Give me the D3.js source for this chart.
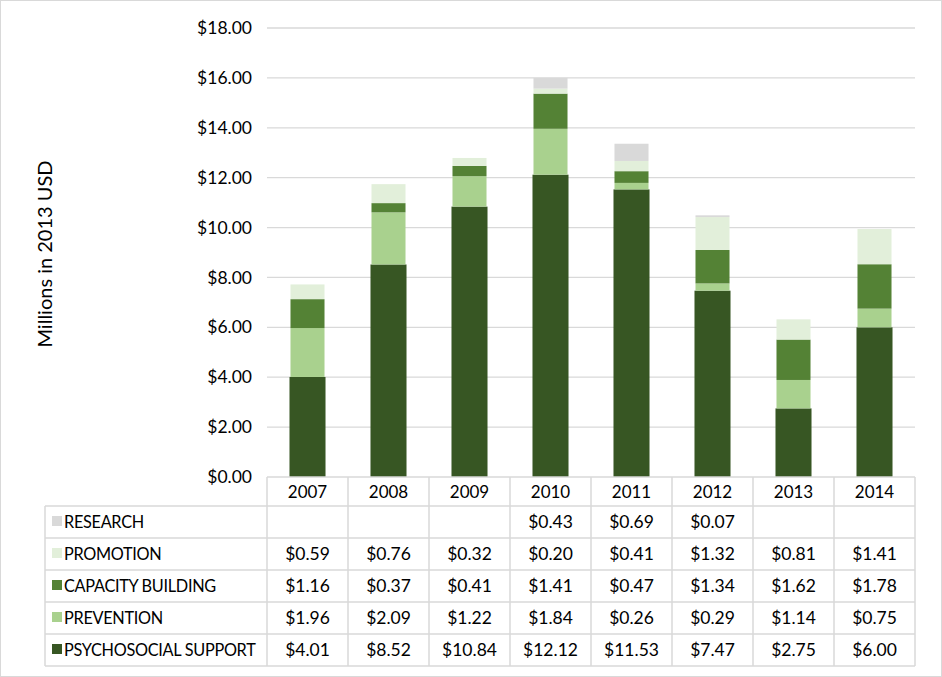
<!DOCTYPE html>
<html>
<head>
<meta charset="utf-8">
<script src="https://cdn.jsdelivr.net/npm/d3@7"></script>
<style>
  body { margin: 0; background: #fff; }
  svg text { font-family: Lato, "Open Sans", sans-serif; fill: #000; }
</style>
</head>
<body>
<div id="chart"></div>
<script>
const years = ["2007", "2008", "2009", "2010", "2011", "2012", "2013", "2014"];
// table order, top to bottom
const seriesNames = ["RESEARCH", "PROMOTION", "CAPACITY BUILDING", "PREVENTION", "PSYCHOSOCIAL SUPPORT"];
const research     = [null, null, null, 0.43, 0.69, 0.07, null, null];
const promotion    = [0.59, 0.76, 0.32, 0.20, 0.41, 1.32, 0.81, 1.41];
const capacity     = [1.16, 0.37, 0.41, 1.41, 0.47, 1.34, 1.62, 1.78];
const prevention   = [1.96, 2.09, 1.22, 1.84, 0.26, 0.29, 1.14, 0.75];
const psychosocial = [4.01, 8.52, 10.84, 12.12, 11.53, 7.47, 2.75, 6.00];
const yTicks = [0, 2, 4, 6, 8, 10, 12, 14, 16, 18];

const seriesValues = [research, promotion, capacity, prevention, psychosocial];
const colors = ["#d9d9d9", "#e2efda", "#548235", "#a9d18e", "#375623"];

const width = 942, height = 677;
const plot = { left: 267, right: 915, top: 28, bottom: 477 };
const tableLeft = 45, headerH = 29, rowH = 32;

const svg = d3.select("#chart").append("svg")
    .attr("width", width)
    .attr("height", height);

// outer border
svg.append("rect")
    .attr("x", 0.5).attr("y", 0.5)
    .attr("width", width - 1).attr("height", height - 1)
    .attr("fill", "none").attr("stroke", "#d9d9d9");

const x = d3.scaleBand().domain(years).range([plot.left, plot.right]).paddingInner(0.58).paddingOuter(0.29);
const xCol = d3.scaleBand().domain(years).range([plot.left, plot.right]);
const y = d3.scaleLinear().domain([0, 18]).range([plot.bottom, plot.top]);

// gridlines
svg.append("g").selectAll("line")
    .data(yTicks.filter(d => d > 0))
    .enter().append("line")
    .attr("x1", plot.left).attr("x2", plot.right)
    .attr("y1", d => y(d)).attr("y2", d => y(d))
    .attr("stroke", "#d9d9d9").attr("stroke-width", 1.3);

// y axis labels
const yAxis = d3.axisLeft(y).tickValues(yTicks).tickSize(0).tickPadding(15)
    .tickFormat(d => "$" + d3.format(".2f")(d));
const yg = svg.append("g").attr("transform", `translate(${plot.left},0)`).call(yAxis);
yg.select(".domain").remove();
yg.selectAll("text").attr("font-size", 17.5).attr("font-family", "Lato, sans-serif");

// stacked bars
const table = years.map((yr, i) => {
  const row = { year: yr };
  seriesNames.forEach((s, j) => row[s] = seriesValues[j][i] || 0);
  return row;
});
const stackKeys = seriesNames.slice().reverse();
const stack = d3.stack().keys(stackKeys)(table);

svg.append("g").selectAll("g")
    .data(stack)
    .enter().append("g")
    .attr("fill", d => colors[seriesNames.indexOf(d.key)])
    .selectAll("rect")
    .data(d => d.map(v => Object.assign({ key: d.key }, v)))
    .enter().append("rect")
    .attr("x", d => x(d.data.year) - (d.key === "PSYCHOSOCIAL SUPPORT" ? 1 : 0))
    .attr("width", d => x.bandwidth() + (d.key === "PSYCHOSOCIAL SUPPORT" ? 2 : 0))
    .attr("y", d => y(d[1]))
    .attr("height", d => y(d[0]) - y(d[1]));

// data table
const grid = svg.append("g").attr("stroke", "#d9d9d9").attr("stroke-width", 1.5).attr("fill", "none");
const tableTop = plot.bottom;
const rowsTop = tableTop + headerH;
const tableBottom = rowsTop + rowH * seriesNames.length;

// header top line and row lines
grid.append("line").attr("x1", plot.left).attr("x2", plot.right).attr("y1", tableTop).attr("y2", tableTop);
d3.range(seriesNames.length + 1).forEach(i => {
  grid.append("line")
      .attr("x1", tableLeft).attr("x2", plot.right)
      .attr("y1", rowsTop + i * rowH).attr("y2", rowsTop + i * rowH);
});
// vertical lines
years.forEach(yr => {
  grid.append("line").attr("x1", xCol(yr)).attr("x2", xCol(yr)).attr("y1", tableTop).attr("y2", tableBottom);
});
grid.append("line").attr("x1", plot.right).attr("x2", plot.right).attr("y1", tableTop).attr("y2", tableBottom);
grid.append("line").attr("x1", tableLeft).attr("x2", tableLeft).attr("y1", rowsTop).attr("y2", tableBottom);

// header years
svg.append("g").selectAll("text")
    .data(years)
    .enter().append("text")
    .attr("x", d => xCol(d) + xCol.bandwidth() / 2)
    .attr("y", tableTop + headerH / 2 + 6)
    .attr("text-anchor", "middle")
    .attr("font-size", 17)
    .text(d => d);

// legend labels + swatches
const rows = svg.append("g").selectAll("g")
    .data(seriesNames)
    .enter().append("g")
    .attr("transform", (d, i) => `translate(0,${rowsTop + i * rowH + rowH / 2})`);
rows.append("rect")
    .attr("x", 52).attr("y", -6)
    .attr("width", 10).attr("height", 10)
    .attr("fill", (d, i) => colors[i]);
rows.append("text")
    .attr("x", 64).attr("y", 5.5)
    .attr("font-size", 16.3)
    .attr("letter-spacing", -0.3)
    .text(d => d);

// cell values
rows.each(function(name, i) {
  d3.select(this).selectAll("text.val")
      .data(seriesValues[i].map((v, k) => ({ v, yr: years[k] })).filter(d => d.v !== null))
      .enter().append("text")
      .attr("class", "val")
      .attr("x", d => xCol(d.yr) + xCol.bandwidth() / 2)
      .attr("y", 6)
      .attr("text-anchor", "middle")
      .attr("font-size", 17.5)
      .text(d => "$" + d3.format(".2f")(d.v));
});

// y axis title
svg.append("text")
    .attr("transform", `translate(52,254) rotate(-90)`)
    .attr("text-anchor", "middle")
    .attr("font-size", 20)
    .text("Millions in 2013 USD");
</script>
</body>
</html>
